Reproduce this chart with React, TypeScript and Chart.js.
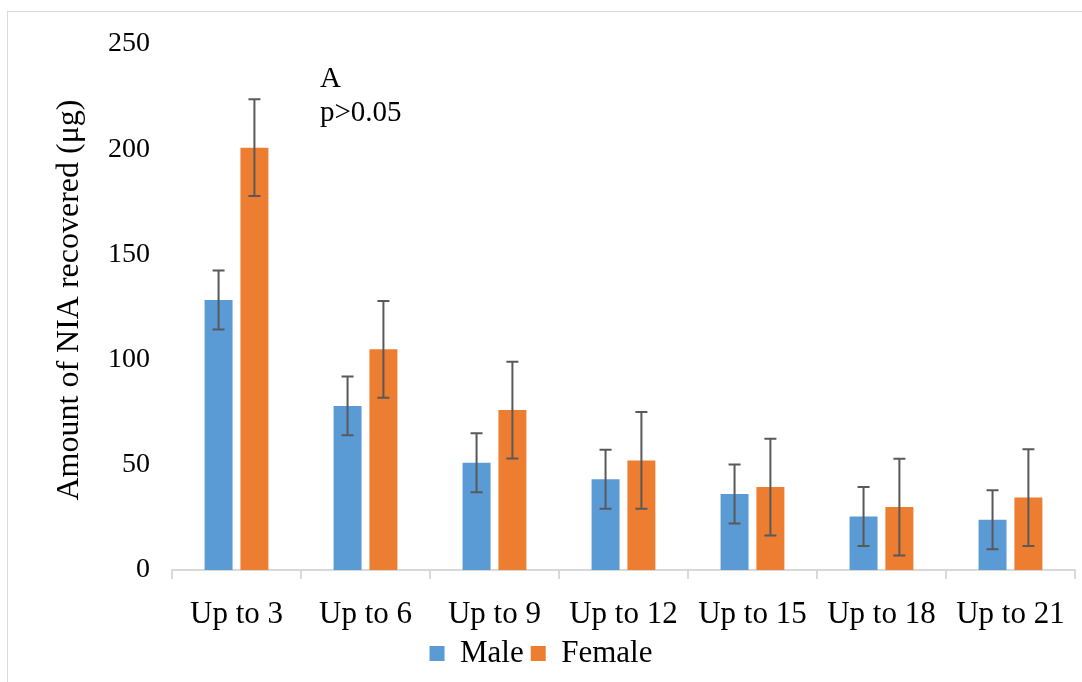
import React, { useEffect, useRef } from "react";
import { Chart, registerables } from "chart.js";

Chart.register(...registerables);

const categories = ["Up to 3", "Up to 6", "Up to 9", "Up to 12", "Up to 15", "Up to 18", "Up to 21"];
const maleValues = [128.3, 78.0, 51.0, 43.1, 36.1, 25.4, 23.9];
const maleErrors = [14, 14, 14, 14, 14, 14, 14];
const femaleValues = [200.7, 104.9, 76.0, 52.1, 39.4, 29.9, 34.4];
const femaleErrors = [23, 23, 23, 23, 23, 23, 23];
const yMin = 0;
const yMax = 250;
const yStep = 50;
const yAxisTitle = "Amount of NIA recovered (μg)";
const annotationLines = ["A", "p>0.05"];

const SERIF = '"Liberation Serif", "Times New Roman", serif';

const errorBarPlugin = {
  id: "errorBars",
  afterDatasetsDraw(chart: any) {
    const ctx = chart.ctx;
    const yScale = chart.scales.y;
    const errs = [maleErrors, femaleErrors];
    ctx.save();
    ctx.strokeStyle = "#595959";
    ctx.lineWidth = 2;
    chart.data.datasets.forEach((ds: any, di: number) => {
      const meta = chart.getDatasetMeta(di);
      meta.data.forEach((bar: any, i: number) => {
        const v = ds.data[i];
        const e = errs[di][i];
        const x = bar.x;
        const yT = yScale.getPixelForValue(v + e);
        const yB = yScale.getPixelForValue(v - e);
        const cap = 6;
        ctx.beginPath();
        ctx.moveTo(x, yT);
        ctx.lineTo(x, yB);
        ctx.moveTo(x - cap, yT);
        ctx.lineTo(x + cap, yT);
        ctx.moveTo(x - cap, yB);
        ctx.lineTo(x + cap, yB);
        ctx.stroke();
      });
    });
    ctx.restore();
  },
};

const textPlugin = {
  id: "textLabels",
  afterDraw(chart: any) {
    const ctx = chart.ctx;
    const area = chart.chartArea;
    const yScale = chart.scales.y;
    ctx.save();
    ctx.fillStyle = "#000";
    ctx.font = `29px ${SERIF}`;
    ctx.textAlign = "left";
    ctx.textBaseline = "middle";
    const x = area.left + 148;
    ctx.fillText(annotationLines[0], x, yScale.getPixelForValue(233));
    ctx.fillText(annotationLines[1], x, yScale.getPixelForValue(217));
    ctx.restore();

    ctx.save();
    ctx.fillStyle = "#000";
    ctx.font = `32px ${SERIF}`;
    ctx.textAlign = "center";
    ctx.textBaseline = "middle";
    ctx.translate(area.left - 102, (area.top + area.bottom) / 2 - 7);
    ctx.rotate(-Math.PI / 2);
    ctx.fillText(yAxisTitle, 0, 0);
    ctx.restore();
  },
};

export default function App() {
  const canvasRef = useRef<HTMLCanvasElement | null>(null);

  useEffect(() => {
    if (!canvasRef.current) return;
    const chart = new Chart(canvasRef.current, {
      type: "bar",
      data: {
        labels: categories,
        datasets: [
          {
            label: "Male",
            data: maleValues,
            backgroundColor: "#5B9BD5",
            borderWidth: 0,
            categoryPercentage: 0.556,
            barPercentage: 0.78,
          },
          {
            label: "Female",
            data: femaleValues,
            backgroundColor: "#ED7D31",
            borderWidth: 0,
            categoryPercentage: 0.556,
            barPercentage: 0.78,
          },
        ],
      },
      options: {
        responsive: false,
        animation: false,
        layout: { padding: { top: 44, right: 4, left: 4, bottom: 3 } },
        plugins: {
          legend: {
            position: "bottom",
            labels: {
              boxWidth: 15,
              boxHeight: 15,
              padding: 7,
              color: "#000",
              font: { family: SERIF, size: 31 },
            },
          },
          tooltip: { enabled: false },
          title: { display: false },
        },
        scales: {
          x: {
            afterFit(scale: any) {
              scale.height = 61;
            },
            grid: {
              offset: true,
              drawOnChartArea: false,
              drawTicks: true,
              tickLength: 9,
              color: "#d9d9d9",
              lineWidth: 2,
            },
            border: { color: "#d9d9d9", width: 2 },
            ticks: {
              color: "#000",
              padding: 17,
              font: { family: SERIF, size: 31 },
              maxRotation: 0,
              autoSkip: false,
            },
          },
          y: {
            min: yMin,
            max: yMax,
            afterFit(scale: any) {
              scale.width = 168;
            },
            grid: { display: false, drawTicks: false },
            border: { display: false },
            ticks: {
              stepSize: yStep,
              color: "#000",
              padding: 22,
              font: { family: SERIF, size: 28 },
            },
            title: { display: false },
          },
        },
      },
      plugins: [errorBarPlugin, textPlugin],
    });
    return () => chart.destroy();
  }, []);

  return (
    <div style={{ position: "absolute", left: 0, top: 0, width: 1082, height: 682, background: "#fff", overflow: "hidden" }}>
      <div
        style={{
          position: "absolute",
          left: 7,
          top: 11,
          width: 1075,
          height: 671,
          borderTop: "1px solid #d9d9d9",
          borderLeft: "1px solid #d9d9d9",
          boxSizing: "border-box",
        }}
      />
      <canvas ref={canvasRef} width={1082} height={682} style={{ position: "absolute", left: 0, top: 0 }} />
    </div>
  );
}
